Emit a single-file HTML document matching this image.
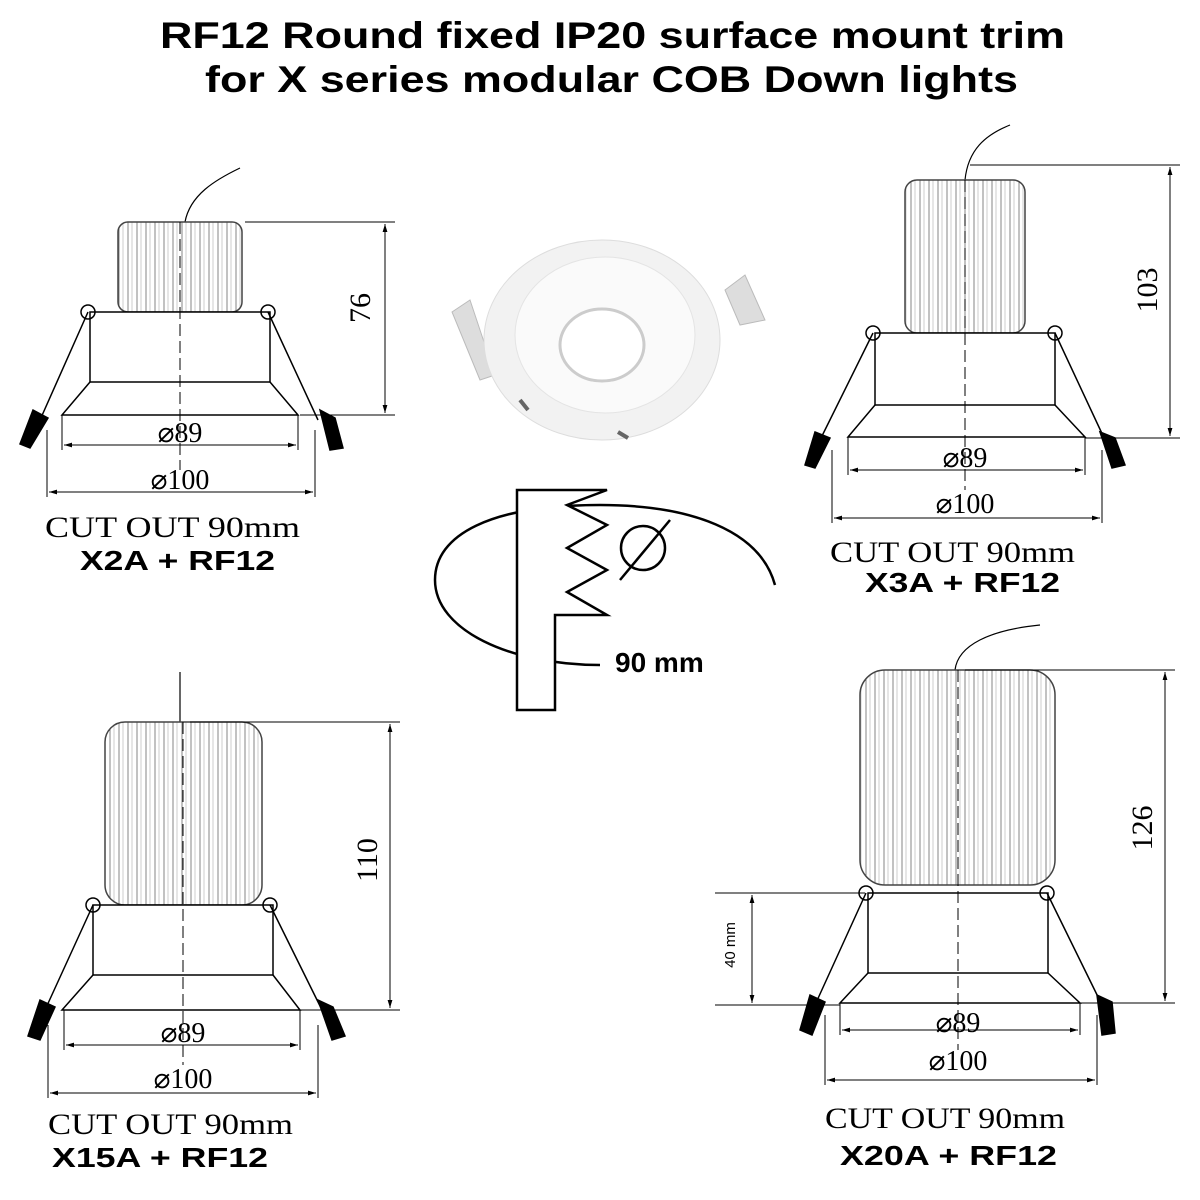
<!DOCTYPE html>
<html><head><meta charset="utf-8"><style>
html,body{margin:0;padding:0;background:#fff;}
svg{display:block}
.t{font-family:"Liberation Sans",sans-serif;font-weight:bold;}
.s{font-family:"Liberation Serif",serif;}
</style></head><body>
<svg width="1200" height="1200" viewBox="0 0 1200 1200" xmlns="http://www.w3.org/2000/svg">
<defs>
<marker id="a" viewBox="0 0 10 10" refX="10" refY="5" markerWidth="8" markerHeight="8" orient="auto-start-reverse"><path d="M0,2 L10,5 L0,8z" fill="#000"/></marker>
<pattern id="fin" width="9" height="10" patternUnits="userSpaceOnUse"><line x1="2" y1="0" x2="2" y2="10" stroke="#666" stroke-width="0.8"/><line x1="6" y1="0" x2="6" y2="10" stroke="#aaa" stroke-width="0.6"/></pattern>
</defs>
<text class="t" x="160" y="48" font-size="37" textLength="905" lengthAdjust="spacingAndGlyphs">RF12 Round fixed IP20 surface mount trim</text>
<text class="t" x="205" y="92" font-size="37" textLength="813" lengthAdjust="spacingAndGlyphs">for X series modular COB Down lights</text>

<!-- X2A -->
<g stroke="#000" fill="none" stroke-width="1.5">
<path d="M185,222 C190,195 215,180 240,168" stroke-width="1.2"/>
<rect x="118" y="222" width="124" height="90" fill="url(#fin)" stroke="#444" rx="10"/>
<rect x="90" y="312" width="180" height="70" fill="#fff"/>
<path d="M90,382 L62,415 L298,415 L270,382"/>
<line x1="180" y1="222" x2="180" y2="470" stroke-dasharray="12,5" stroke-width="1"/>
<circle cx="88" cy="312" r="7"/><circle cx="268" cy="312" r="7"/>
<path d="M88,312 L40,420 M268,312 L318,420"/>
<path d="M33,410 L48,418 L30,448 L20,444z M320,410 L335,418 L343,448 L330,450z" fill="#000"/>
<line x1="245" y1="222" x2="395" y2="222" stroke-width="1"/><line x1="300" y1="415" x2="395" y2="415" stroke-width="1"/>
<line x1="385" y1="224" x2="385" y2="413" marker-start="url(#a)" marker-end="url(#a)" stroke-width="1"/>
<line x1="64" y1="445" x2="296" y2="445" marker-start="url(#a)" marker-end="url(#a)" stroke-width="1"/>
<line x1="62" y1="415" x2="62" y2="450" stroke-width="1"/><line x1="298" y1="415" x2="298" y2="450" stroke-width="1"/>
<line x1="49" y1="492" x2="313" y2="492" marker-start="url(#a)" marker-end="url(#a)" stroke-width="1"/>
<line x1="47" y1="430" x2="47" y2="497" stroke-width="1"/><line x1="315" y1="430" x2="315" y2="497" stroke-width="1"/>
</g>
<text class="s" x="180" y="442" font-size="28" text-anchor="middle">⌀89</text>
<text class="s" x="180" y="489" font-size="28" text-anchor="middle">⌀100</text>
<text class="s" x="382" y="320" font-size="30" text-anchor="middle" transform="rotate(-90 370 320)">76</text>
<text class="s" x="45" y="537" font-size="30" textLength="255" lengthAdjust="spacingAndGlyphs">CUT OUT 90mm</text>
<text class="t" x="80" y="570" font-size="28" textLength="195" lengthAdjust="spacingAndGlyphs">X2A + RF12</text>

<!-- X3A -->
<g stroke="#000" fill="none" stroke-width="1.5">
<path d="M965,180 C968,150 985,135 1010,125" stroke-width="1.2"/>
<rect x="905" y="180" width="120" height="153" fill="url(#fin)" stroke="#444" rx="12"/>
<rect x="875" y="333" width="180" height="72" fill="#fff"/>
<path d="M875,405 L848,437 L1085,437 L1055,405"/>
<line x1="965" y1="180" x2="965" y2="490" stroke-dasharray="12,5" stroke-width="1"/>
<circle cx="873" cy="333" r="7"/><circle cx="1055" cy="333" r="7"/>
<path d="M873,333 L820,440 M1055,333 L1105,440"/>
<path d="M815,432 L830,438 L815,468 L805,465z M1100,432 L1115,438 L1125,465 L1112,468z" fill="#000"/>
<line x1="970" y1="165" x2="1180" y2="165" stroke-width="1"/><line x1="1085" y1="438" x2="1180" y2="438" stroke-width="1"/>
<line x1="1170" y1="167" x2="1170" y2="436" marker-start="url(#a)" marker-end="url(#a)" stroke-width="1"/>
<line x1="850" y1="470" x2="1083" y2="470" marker-start="url(#a)" marker-end="url(#a)" stroke-width="1"/>
<line x1="848" y1="437" x2="848" y2="475" stroke-width="1"/><line x1="1085" y1="437" x2="1085" y2="475" stroke-width="1"/>
<line x1="834" y1="518" x2="1100" y2="518" marker-start="url(#a)" marker-end="url(#a)" stroke-width="1"/>
<line x1="832" y1="450" x2="832" y2="523" stroke-width="1"/><line x1="1102" y1="450" x2="1102" y2="523" stroke-width="1"/>
</g>
<text class="s" x="965" y="467" font-size="28" text-anchor="middle">⌀89</text>
<text class="s" x="965" y="513" font-size="28" text-anchor="middle">⌀100</text>
<text class="s" x="1167" y="300" font-size="30" text-anchor="middle" transform="rotate(-90 1157 300)">103</text>
<text class="s" x="830" y="562" font-size="30" textLength="245" lengthAdjust="spacingAndGlyphs">CUT OUT 90mm</text>
<text class="t" x="865" y="592" font-size="28" textLength="195" lengthAdjust="spacingAndGlyphs">X3A + RF12</text>

<!-- X15A -->
<g stroke="#000" fill="none" stroke-width="1.5">
<path d="M180,722 L180,672" stroke-width="1.2"/>
<rect x="105" y="722" width="157" height="183" fill="url(#fin)" stroke="#444" rx="20"/>
<rect x="93" y="905" width="180" height="70" fill="#fff"/>
<path d="M93,975 L62,1010 L300,1010 L273,975"/>
<line x1="183" y1="722" x2="183" y2="1065" stroke-dasharray="12,5" stroke-width="1"/>
<circle cx="93" cy="905" r="7"/><circle cx="270" cy="905" r="7"/>
<path d="M93,905 L45,1010 M270,905 L322,1010"/>
<path d="M40,1000 L55,1007 L40,1040 L28,1036z M318,1000 L333,1007 L345,1036 L332,1040z" fill="#000"/>
<line x1="190" y1="722" x2="400" y2="722" stroke-width="1"/><line x1="300" y1="1010" x2="400" y2="1010" stroke-width="1"/>
<line x1="390" y1="724" x2="390" y2="1008" marker-start="url(#a)" marker-end="url(#a)" stroke-width="1"/>
<line x1="66" y1="1045" x2="298" y2="1045" marker-start="url(#a)" marker-end="url(#a)" stroke-width="1"/>
<line x1="64" y1="1010" x2="64" y2="1050" stroke-width="1"/><line x1="300" y1="1010" x2="300" y2="1050" stroke-width="1"/>
<line x1="50" y1="1093" x2="316" y2="1093" marker-start="url(#a)" marker-end="url(#a)" stroke-width="1"/>
<line x1="48" y1="1025" x2="48" y2="1098" stroke-width="1"/><line x1="318" y1="1025" x2="318" y2="1098" stroke-width="1"/>
</g>
<text class="s" x="183" y="1042" font-size="28" text-anchor="middle">⌀89</text>
<text class="s" x="183" y="1088" font-size="28" text-anchor="middle">⌀100</text>
<text class="s" x="387" y="870" font-size="30" text-anchor="middle" transform="rotate(-90 377 870)">110</text>
<text class="s" x="48" y="1134" font-size="30" textLength="245" lengthAdjust="spacingAndGlyphs">CUT OUT 90mm</text>
<text class="t" x="52" y="1167" font-size="28" textLength="216" lengthAdjust="spacingAndGlyphs">X15A + RF12</text>

<!-- X20A -->
<g stroke="#000" fill="none" stroke-width="1.5">
<path d="M955,670 C958,645 990,630 1040,625" stroke-width="1.2"/>
<rect x="860" y="670" width="195" height="215" fill="url(#fin)" stroke="#444" rx="25"/>
<rect x="868" y="893" width="180" height="80" fill="#fff"/>
<path d="M868,973 L840,1003 L1080,1003 L1048,973"/>
<line x1="958" y1="670" x2="958" y2="1050" stroke-dasharray="12,5" stroke-width="1"/>
<circle cx="866" cy="893" r="7"/><circle cx="1047" cy="893" r="7"/>
<path d="M866,893 L815,1005 M1047,893 L1102,1005"/>
<path d="M810,995 L825,1002 L812,1035 L800,1030z M1097,995 L1112,1002 L1115,1033 L1102,1035z" fill="#000"/>
<line x1="965" y1="670" x2="1175" y2="670" stroke-width="1"/><line x1="1080" y1="1003" x2="1175" y2="1003" stroke-width="1"/>
<line x1="1165" y1="672" x2="1165" y2="1001" marker-start="url(#a)" marker-end="url(#a)" stroke-width="1"/>
<line x1="715" y1="893" x2="865" y2="893" stroke-width="1"/><line x1="715" y1="1005" x2="840" y2="1005" stroke-width="1"/>
<line x1="752" y1="895" x2="752" y2="1003" marker-start="url(#a)" marker-end="url(#a)" stroke-width="1"/>
<line x1="842" y1="1030" x2="1078" y2="1030" marker-start="url(#a)" marker-end="url(#a)" stroke-width="1"/>
<line x1="840" y1="1003" x2="840" y2="1035" stroke-width="1"/><line x1="1080" y1="1003" x2="1080" y2="1035" stroke-width="1"/>
<line x1="827" y1="1080" x2="1095" y2="1080" marker-start="url(#a)" marker-end="url(#a)" stroke-width="1"/>
<line x1="825" y1="1015" x2="825" y2="1085" stroke-width="1"/><line x1="1097" y1="1015" x2="1097" y2="1085" stroke-width="1"/>
</g>
<text class="s" x="958" y="1032" font-size="28" text-anchor="middle">⌀89</text>
<text class="s" x="958" y="1070" font-size="28" text-anchor="middle">⌀100</text>
<text class="s" x="1162" y="838" font-size="30" text-anchor="middle" transform="rotate(-90 1152 838)">126</text>
<text class="t" x="740" y="950" font-size="15" text-anchor="middle" transform="rotate(-90 735 950)" style="font-weight:normal">40 mm</text>
<text class="s" x="825" y="1128" font-size="30" textLength="240" lengthAdjust="spacingAndGlyphs">CUT OUT 90mm</text>
<text class="t" x="840" y="1165" font-size="28" textLength="217" lengthAdjust="spacingAndGlyphs">X20A + RF12</text>

<!-- center trim photo -->
<g>
<path d="M452,312 L470,300 L495,375 L480,380z" fill="#ddd" stroke="#bbb"/>
<path d="M725,290 L745,275 L765,320 L740,325z" fill="#ddd" stroke="#bbb"/>
<ellipse cx="602" cy="340" rx="118" ry="100" fill="#f2f2f2" stroke="#ddd"/>
<ellipse cx="605" cy="335" rx="90" ry="78" fill="#fafafa" stroke="#e4e4e4"/>
<ellipse cx="602" cy="345" rx="42" ry="36" fill="#fff" stroke="#ccc" stroke-width="3"/>
<path d="M520,400 L528,410 M618,432 L628,438" stroke="#666" stroke-width="4"/>
</g>

<!-- cutout diagram -->
<g stroke="#000" stroke-width="2.5" fill="none">
<path d="M775,585 C760,530 690,505 600,505 C490,505 435,535 435,580 C435,630 510,665 600,665"/>
<path d="M517,490 L517,710 L555,710 L555,615 L607,615 L567,592 L607,570 L567,548 L607,525 L567,505 L607,490 Z" fill="#fff"/>
<circle cx="643" cy="548" r="22"/>
<line x1="620" y1="580" x2="670" y2="520"/>
</g>
<text class="t" x="615" y="672" font-size="28">90 mm</text>
</svg>
</body></html>
